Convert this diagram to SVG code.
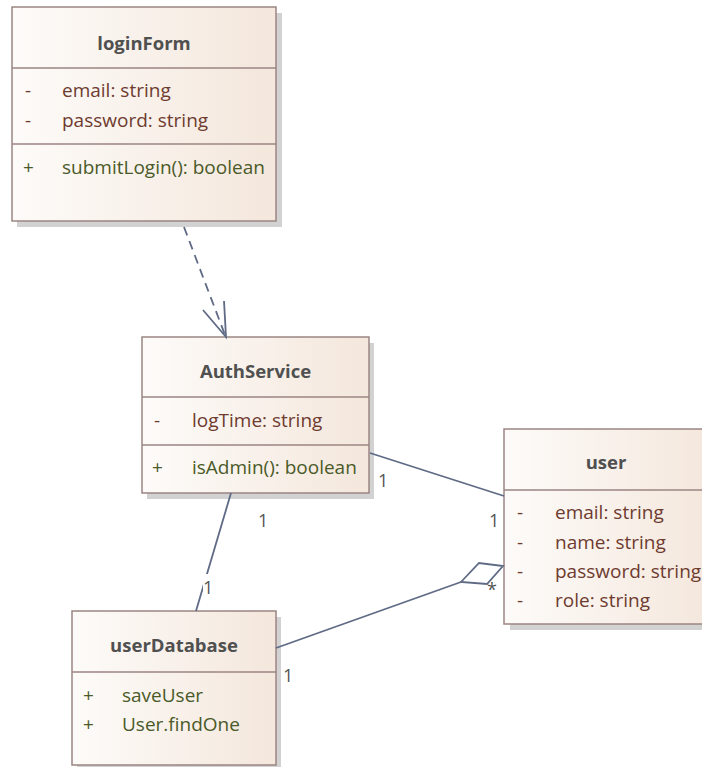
<svg xmlns="http://www.w3.org/2000/svg" width="702" height="767" viewBox="0 0 702 767">
  <defs>
    <linearGradient id="boxFill" x1="0" y1="0" x2="1" y2="0">
      <stop offset="0" stop-color="#fdfbf9"/>
      <stop offset="1" stop-color="#f4e7dc"/>
    </linearGradient>
    <style>
      .shadow { fill: #d2d2d2; }
      .box { fill: url(#boxFill); stroke: #9b8583; stroke-width: 1.5; }
      .div { stroke: #9b8583; stroke-width: 1.5; }
      .title { font-family: "Open Sans", "Liberation Sans", sans-serif; font-size: 18.5px; font-weight: bold; fill: #505050; text-anchor: middle; }
      .attr { font-family: "Open Sans", "Liberation Sans", sans-serif; font-size: 19px; fill: #6e3b2f; }
      .op { font-family: "Open Sans", "Liberation Sans", sans-serif; font-size: 19px; fill: #4a5a28; }
      .mult { font-family: "Open Sans", "Liberation Sans", sans-serif; font-size: 18px; fill: #555555; }
      .edge { stroke: #5f6a85; stroke-width: 1.8; fill: none; }
      .dash { stroke-dasharray: 9 6; }
    </style>
  </defs>

  <!-- loginForm -->
  <g id="loginForm">
    <rect class="shadow" x="17" y="13" width="265" height="214"/>
    <rect class="box" x="12" y="7" width="264" height="214"/>
    <line class="div" x1="12" y1="68" x2="276" y2="68"/>
    <line class="div" x1="12" y1="144" x2="276" y2="144"/>
    <text class="title" x="144" y="50">loginForm</text>
    <text class="attr" x="25" y="97">-</text>
    <text class="attr" x="62" y="97">email: string</text>
    <text class="attr" x="25" y="127">-</text>
    <text class="attr" x="62" y="127">password: string</text>
    <text class="op" x="23" y="174">+</text>
    <text class="op" x="62" y="174">submitLogin(): boolean</text>
  </g>

  <!-- AuthService -->
  <g id="AuthService">
    <rect class="shadow" x="147" y="343" width="227" height="156"/>
    <rect class="box" x="142" y="337" width="227" height="156"/>
    <line class="div" x1="142" y1="397" x2="369" y2="397"/>
    <line class="div" x1="142" y1="445" x2="369" y2="445"/>
    <text class="title" x="255.5" y="378">AuthService</text>
    <text class="attr" x="154" y="427">-</text>
    <text class="attr" x="192" y="427">logTime: string</text>
    <text class="op" x="152" y="474">+</text>
    <text class="op" x="192" y="474">isAdmin(): boolean</text>
  </g>

  <!-- user -->
  <g id="user">
    <rect class="shadow" x="510" y="435" width="200" height="195"/>
    <rect class="box" x="504" y="429" width="210" height="195"/>
    <line class="div" x1="504" y1="490" x2="714" y2="490"/>
    <text class="title" x="606" y="469">user</text>
    <text class="attr" x="517" y="519">-</text>
    <text class="attr" x="555" y="519">email: string</text>
    <text class="attr" x="517" y="549">-</text>
    <text class="attr" x="555" y="549">name: string</text>
    <text class="attr" x="517" y="578">-</text>
    <text class="attr" x="555" y="578">password: string</text>
    <text class="attr" x="517" y="607">-</text>
    <text class="attr" x="555" y="607">role: string</text>
  </g>

  <!-- userDatabase -->
  <g id="userDatabase">
    <rect class="shadow" x="77" y="617" width="204" height="160"/>
    <rect class="box" x="72" y="611" width="204" height="154"/>
    <line class="div" x1="72" y1="672" x2="276" y2="672"/>
    <text class="title" x="174" y="652">userDatabase</text>
    <text class="op" x="83" y="702">+</text>
    <text class="op" x="122" y="702">saveUser</text>
    <text class="op" x="83" y="731">+</text>
    <text class="op" x="122" y="731">User.findOne</text>
  </g>

  <!-- connectors -->
  <g id="connectors">
    <!-- loginForm depends on AuthService -->
    <line class="edge dash" x1="184" y1="227" x2="225" y2="335"/>
    <polyline class="edge" points="203,310 226,337 224,301"/>

    <!-- AuthService — user -->
    <line class="edge" x1="370" y1="453" x2="504" y2="496"/>
    <text class="mult" x="378" y="487">1</text>
    <text class="mult" x="489" y="527">1</text>

    <!-- AuthService — userDatabase -->
    <line class="edge" x1="231" y1="493" x2="196" y2="611"/>
    <rect x="203" y="574" width="12" height="19" fill="#ffffff"/>
    <text class="mult" x="258" y="527">1</text>
    <text class="mult" x="203" y="594">1</text>

    <!-- userDatabase aggregated by user -->
    <line class="edge" x1="276" y1="648" x2="461" y2="582"/>
    <polygon class="edge" fill="#f7efe9" points="461,582 479,563 503,566 487,584"/>
    <text class="mult" x="283" y="682">1</text>
    <text class="mult" x="487" y="596">*</text>
  </g>
</svg>
